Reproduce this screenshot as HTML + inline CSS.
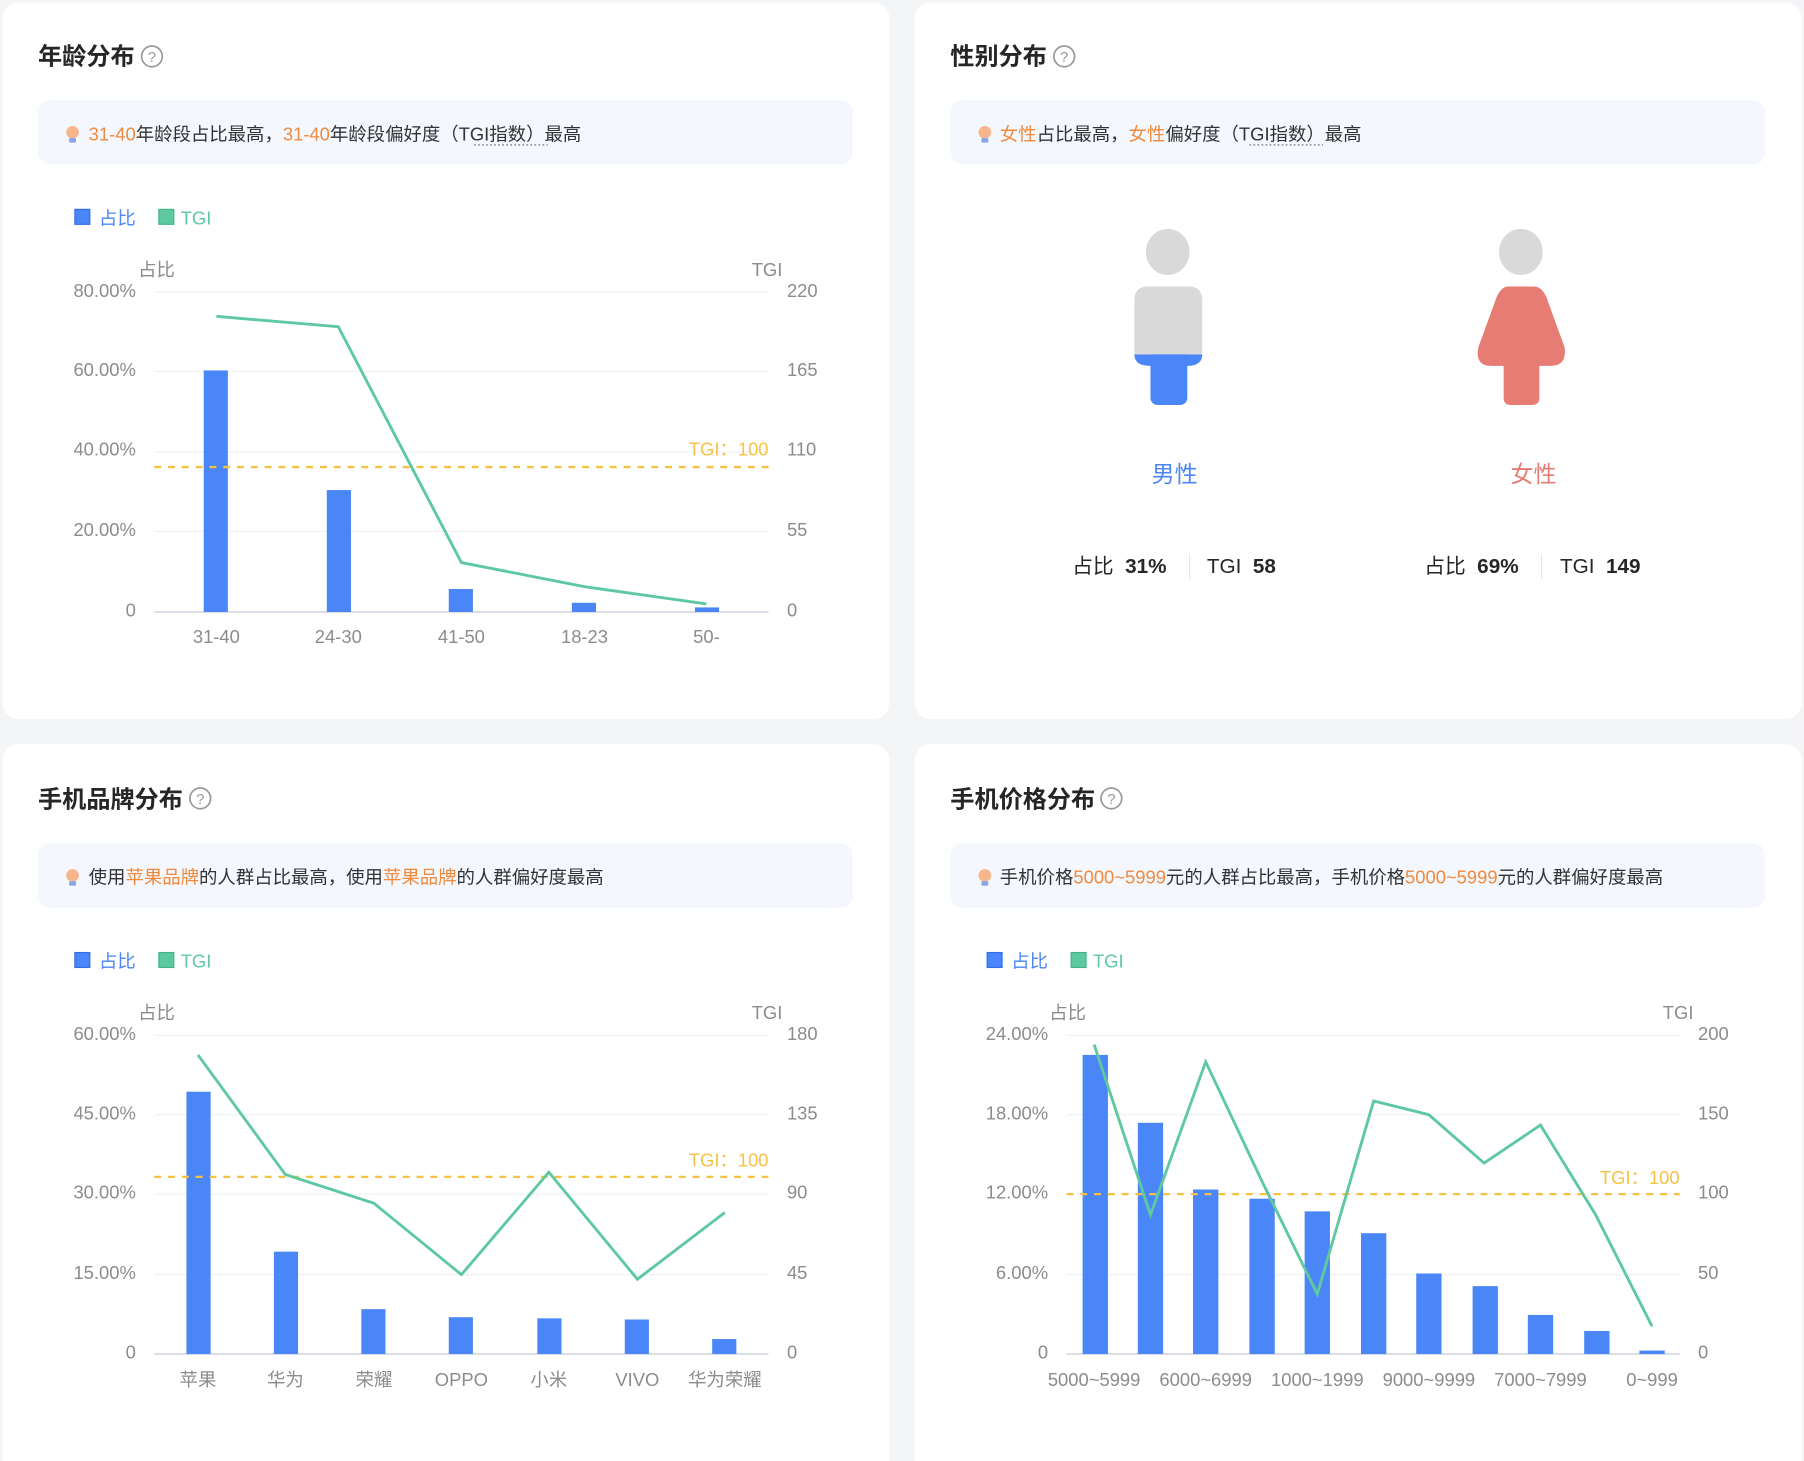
<!DOCTYPE html>
<html><head><meta charset="utf-8"><style>
html,body{margin:0;padding:0;background:#f4f5f7;}
svg{display:block;}
text{font-family:"Liberation Sans","Noto Sans CJK SC",sans-serif;}
.ax{fill:#8c8c8c;font-size:16px;}
.t{fill:#262626;font-size:21px;font-weight:bold;}
.tip{fill:#333;font-size:16px;}
.o{fill:#f08a3c;}
</style></head><body>
<svg width="1804" height="1461" viewBox="0 0 1568 1270" xmlns="http://www.w3.org/2000/svg">
<rect width="1568" height="1270" fill="#f4f5f7"/>
<rect x="2" y="2" width="771" height="623" rx="14" fill="#fff"/>
<rect x="795" y="2" width="771" height="623" rx="14" fill="#fff"/>
<rect x="2" y="647" width="771" height="640" rx="14" fill="#fff"/>
<rect x="795" y="647" width="771" height="640" rx="14" fill="#fff"/>

<defs>
<g id="help"><circle r="9" fill="none" stroke="#999" stroke-width="1.5"/><text y="5" text-anchor="middle" font-size="13" fill="#999">?</text></g>
<g id="bulb"><circle cx="0" cy="-2" r="5.5" fill="#f6b58a"/><rect x="-3" y="3" width="6" height="4" rx="1" fill="#8aa6e8"/></g>
</defs>

<!-- ===== Card 1 ===== -->
<text x="33" y="56" class="t">年龄分布</text><use href="#help" x="132" y="49"/>
<rect x="33" y="87" width="708" height="56" rx="10" fill="#f4f7fd"/>
<use href="#bulb" x="63" y="117"/>
<text x="77" y="122" class="tip"><tspan class="o">31-40</tspan>年龄段占比最高，<tspan class="o">31-40</tspan>年龄段偏好度（TGI指数）最高</text>
<line x1="412" y1="126" x2="476" y2="126" stroke="#666" stroke-dasharray="1.5 2"/>
<rect x="65" y="182" width="13" height="13" fill="#4a86f7" stroke="#2f6ee8"/><text x="86" y="195" font-size="16" fill="#4a86f7">占比</text>
<rect x="138" y="182" width="13" height="13" fill="#5ec9a0" stroke="#3fb488"/><text x="157" y="195" font-size="16" fill="#5ec9a0">TGI</text>
<text x="120" y="240" class="ax">占比</text><text x="680" y="240" class="ax" text-anchor="end">TGI</text>
<g stroke="#eef0f3"><line x1="134" y1="254" x2="668" y2="254"/><line x1="134" y1="323" x2="668" y2="323"/><line x1="134" y1="393" x2="668" y2="393"/><line x1="134" y1="462" x2="668" y2="462"/></g>
<line x1="134" y1="532" x2="668" y2="532" stroke="#d6dae3" stroke-width="1.5"/>
<g class="ax" text-anchor="end"><text x="118" y="258">80.00%</text><text x="118" y="327">60.00%</text><text x="118" y="396">40.00%</text><text x="118" y="466">20.00%</text><text x="118" y="536">0</text></g>
<g class="ax"><text x="684" y="258">220</text><text x="684" y="327">165</text><text x="684" y="396">110</text><text x="684" y="466">55</text><text x="684" y="536">0</text></g>
<g fill="#4a86f7"><rect x="177" y="322" width="21" height="210"/><rect x="284" y="426" width="21" height="106"/><rect x="390" y="512" width="21" height="20"/><rect x="497" y="524" width="21" height="8"/><rect x="604" y="528" width="21" height="4"/></g>
<line x1="134" y1="406" x2="668" y2="406" stroke="#f5c244" stroke-width="2" stroke-dasharray="6 6"/>
<text x="668" y="396" text-anchor="end" font-size="16" fill="#f5c244">TGI：100</text>
<polyline points="188,275 294,284 401,489 508,510 614,525" fill="none" stroke="#5ec9a0" stroke-width="2.5"/>
<g class="ax" text-anchor="middle"><text x="188" y="559">31-40</text><text x="294" y="559">24-30</text><text x="401" y="559">41-50</text><text x="508" y="559">18-23</text><text x="614" y="559">50-</text></g>

<!-- ===== Card 2 ===== -->
<text x="826" y="56" class="t">性别分布</text><use href="#help" x="925" y="49"/>
<rect x="826" y="87" width="708" height="56" rx="10" fill="#f4f7fd"/>
<use href="#bulb" x="856" y="117"/>
<text x="869" y="122" class="tip"><tspan class="o">女性</tspan>占比最高，<tspan class="o">女性</tspan>偏好度（TGI指数）最高</text>
<line x1="1086" y1="126" x2="1150" y2="126" stroke="#666" stroke-dasharray="1.5 2"/>
<ellipse cx="1015" cy="219" rx="19" ry="20" fill="#d9d9d9"/>
<rect x="1000" y="300" width="32" height="52" rx="6" fill="#4a86f7"/>
<path d="M986,308 L1045,308 Q1045,318 1032,318 L1000,318 Q986,318 986,308Z" fill="#4a86f7"/>
<path d="M998,249 L1033,249 Q1045,249 1045,261 L1045,308 L986,308 L986,261 Q986,249 998,249Z" fill="#d9d9d9"/>
<ellipse cx="1322" cy="219" rx="19" ry="20" fill="#d9d9d9"/>
<path d="M1311,249 L1333,249 Q1340,249 1344,258 L1360,302 Q1362,318 1348,318 L1338,318 L1338,346 Q1338,352 1332,352 L1313,352 Q1307,352 1307,346 L1307,318 L1296,318 Q1282,318 1285,302 L1301,258 Q1305,249 1311,249Z" fill="#e77c74"/>
<text x="1021" y="419" text-anchor="middle" font-size="20" fill="#4a86f7">男性</text>
<text x="1333" y="419" text-anchor="middle" font-size="20" fill="#e77c74">女性</text>
<g font-size="18" fill="#262626">
<text x="932" y="498">占比</text><text x="978" y="498" font-weight="bold">31%</text>
<line x1="1034" y1="481" x2="1034" y2="503" stroke="#e5e5e5"/>
<text x="1049" y="498">TGI</text><text x="1089" y="498" font-weight="bold">58</text>
<text x="1238" y="498">占比</text><text x="1284" y="498" font-weight="bold">69%</text>
<line x1="1340" y1="481" x2="1340" y2="503" stroke="#e5e5e5"/>
<text x="1356" y="498">TGI</text><text x="1396" y="498" font-weight="bold">149</text>
</g>

<!-- ===== Card 3 ===== -->
<text x="33" y="702" class="t">手机品牌分布</text><use href="#help" x="174" y="694"/>
<rect x="33" y="733" width="708" height="56" rx="10" fill="#f4f7fd"/>
<use href="#bulb" x="63" y="763"/>
<text x="77" y="768" class="tip">使用<tspan class="o">苹果品牌</tspan>的人群占比最高，使用<tspan class="o">苹果品牌</tspan>的人群偏好度最高</text>
<rect x="65" y="828" width="13" height="13" fill="#4a86f7" stroke="#2f6ee8"/><text x="86" y="841" font-size="16" fill="#4a86f7">占比</text>
<rect x="138" y="828" width="13" height="13" fill="#5ec9a0" stroke="#3fb488"/><text x="157" y="841" font-size="16" fill="#5ec9a0">TGI</text>
<text x="120" y="886" class="ax">占比</text><text x="680" y="886" class="ax" text-anchor="end">TGI</text>
<g stroke="#eef0f3"><line x1="134" y1="900" x2="668" y2="900"/><line x1="134" y1="969" x2="668" y2="969"/><line x1="134" y1="1038" x2="668" y2="1038"/><line x1="134" y1="1108" x2="668" y2="1108"/></g>
<line x1="134" y1="1177" x2="668" y2="1177" stroke="#d6dae3" stroke-width="1.5"/>
<g class="ax" text-anchor="end"><text x="118" y="904">60.00%</text><text x="118" y="973">45.00%</text><text x="118" y="1042">30.00%</text><text x="118" y="1112">15.00%</text><text x="118" y="1181">0</text></g>
<g class="ax"><text x="684" y="904">180</text><text x="684" y="973">135</text><text x="684" y="1042">90</text><text x="684" y="1112">45</text><text x="684" y="1181">0</text></g>
<g fill="#4a86f7"><rect x="162" y="949" width="21" height="228"/><rect x="238" y="1088" width="21" height="89"/><rect x="314" y="1138" width="21" height="39"/><rect x="390" y="1145" width="21" height="32"/><rect x="467" y="1146" width="21" height="31"/><rect x="543" y="1147" width="21" height="30"/><rect x="619" y="1164" width="21" height="13"/></g>
<line x1="134" y1="1023" x2="668" y2="1023" stroke="#f5c244" stroke-width="2" stroke-dasharray="6 6"/>
<text x="668" y="1014" text-anchor="end" font-size="16" fill="#f5c244">TGI：100</text>
<polyline points="172,917 248,1021 325,1046 401,1108 477,1019 554,1112 630,1054" fill="none" stroke="#5ec9a0" stroke-width="2.5"/>
<g class="ax" text-anchor="middle"><text x="172" y="1205">苹果</text><text x="248" y="1205">华为</text><text x="325" y="1205">荣耀</text><text x="401" y="1205">OPPO</text><text x="477" y="1205">小米</text><text x="554" y="1205">VIVO</text><text x="630" y="1205">华为荣耀</text></g>

<!-- ===== Card 4 ===== -->
<text x="826" y="702" class="t">手机价格分布</text><use href="#help" x="966" y="694"/>
<rect x="826" y="733" width="708" height="56" rx="10" fill="#f4f7fd"/>
<use href="#bulb" x="856" y="763"/>
<text x="869" y="768" class="tip">手机价格<tspan class="o">5000~5999</tspan>元的人群占比最高，手机价格<tspan class="o">5000~5999</tspan>元的人群偏好度最高</text>
<rect x="858" y="828" width="13" height="13" fill="#4a86f7" stroke="#2f6ee8"/><text x="879" y="841" font-size="16" fill="#4a86f7">占比</text>
<rect x="931" y="828" width="13" height="13" fill="#5ec9a0" stroke="#3fb488"/><text x="950" y="841" font-size="16" fill="#5ec9a0">TGI</text>
<text x="912" y="886" class="ax">占比</text><text x="1472" y="886" class="ax" text-anchor="end">TGI</text>
<g stroke="#eef0f3"><line x1="927" y1="900" x2="1460" y2="900"/><line x1="927" y1="969" x2="1460" y2="969"/><line x1="927" y1="1038" x2="1460" y2="1038"/><line x1="927" y1="1108" x2="1460" y2="1108"/></g>
<line x1="927" y1="1177" x2="1460" y2="1177" stroke="#d6dae3" stroke-width="1.5"/>
<g class="ax" text-anchor="end"><text x="911" y="904">24.00%</text><text x="911" y="973">18.00%</text><text x="911" y="1042">12.00%</text><text x="911" y="1112">6.00%</text><text x="911" y="1181">0</text></g>
<g class="ax"><text x="1476" y="904">200</text><text x="1476" y="973">150</text><text x="1476" y="1042">100</text><text x="1476" y="1112">50</text><text x="1476" y="1181">0</text></g>
<g fill="#4a86f7"><rect x="941" y="917" width="22" height="260"/><rect x="989" y="976" width="22" height="201"/><rect x="1037" y="1034" width="22" height="143"/><rect x="1086" y="1042" width="22" height="135"/><rect x="1134" y="1053" width="22" height="124"/><rect x="1183" y="1072" width="22" height="105"/><rect x="1231" y="1107" width="22" height="70"/><rect x="1280" y="1118" width="22" height="59"/><rect x="1328" y="1143" width="22" height="34"/><rect x="1377" y="1157" width="22" height="20"/><rect x="1425" y="1174" width="22" height="3"/></g>
<line x1="927" y1="1038" x2="1460" y2="1038" stroke="#f5c244" stroke-width="2" stroke-dasharray="6 6"/>
<text x="1460" y="1029" text-anchor="end" font-size="16" fill="#f5c244">TGI：100</text>
<polyline points="951,908 1000,1056 1048,923 1097,1027 1145,1125 1194,957 1242,969 1290,1011 1339,978 1387,1056 1436,1153" fill="none" stroke="#5ec9a0" stroke-width="2.5"/>
<g class="ax" text-anchor="middle" font-size="15.5"><text x="951" y="1205">5000~5999</text><text x="1048" y="1205">6000~6999</text><text x="1145" y="1205">1000~1999</text><text x="1242" y="1205">9000~9999</text><text x="1339" y="1205">7000~7999</text><text x="1436" y="1205">0~999</text></g>
</svg>
</body></html>
